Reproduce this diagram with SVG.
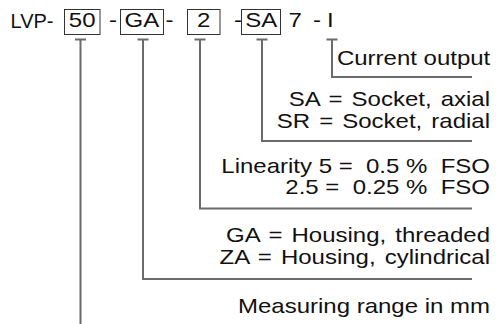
<svg xmlns="http://www.w3.org/2000/svg" width="496" height="324" viewBox="0 0 496 324">
  <style>
    text { font-family: "Liberation Sans", Arial, sans-serif; font-size: 20px; fill: #111; }
    .lbl { text-anchor: end; }
    .eq { word-spacing: 2px; }
    .mid { text-anchor: middle; }
    .box { fill: none; stroke: #333; stroke-width: 1; }
    .lead { fill: none; stroke: #6b6b6b; stroke-width: 2; }
  </style>
  <rect width="496" height="324" fill="#fff"/>

  <!-- type code; field characters use a 1.2x wide face (x values are divided by 1.2) -->
  <g id="code">
    <text x="10.5" y="27.5">LVP-</text>
    <rect class="box" x="64.5" y="9.5" width="35.5" height="25"/>
    <rect class="box" x="120.5" y="9.5" width="43" height="25"/>
    <rect class="box" x="187.5" y="9.5" width="32.5" height="25"/>
    <rect class="box" x="241.5" y="9.5" width="39" height="25"/>
    <g transform="scale(1.2 1)">
      <text class="mid" x="68.5" y="27.5">50</text>
      <text x="90.8" y="27.5">-</text>
      <text class="mid" x="118.3" y="27.5">GA</text>
      <text x="138" y="27.5">-</text>
      <text class="mid" x="169.8" y="27.5">2</text>
      <text x="195" y="27.5">-</text>
      <text class="mid" x="217.7" y="27.5">SA</text>
      <text x="240.4" y="27.5">7</text>
      <text x="260.8" y="27.5">-</text>
      <text x="272.5" y="27.5">I</text>
    </g>
  </g>

  <!-- leader lines from each code field to its explanation -->
  <g id="connectors">
    <path class="lead" d="M75 39.5H86M80.5 39.5V324"/>
    <path class="lead" d="M137.5 39.5H148.5M143 39.5V279H472"/>
    <path class="lead" d="M194.5 39.5H205.5M200 39.5V208.5H472"/>
    <path class="lead" d="M256.5 39.5H267.5M262 39.5V141H472"/>
    <path class="lead" d="M326.5 39.5H337.5M332 39.5V77H472"/>
  </g>

  <!-- explanations, right-aligned at x=490 (408.33 in the widened frame) -->
  <g transform="scale(1.2 1)">
    <g id="output"><text x="280.8" y="65">Current output</text></g>
    <g id="socket">
      <text class="lbl eq" x="408.33" y="106.5">SA = Socket, axial</text>
      <text class="lbl eq" x="408.33" y="128">SR = Socket, radial</text>
    </g>
    <g id="linearity">
      <text class="lbl" x="408.33" y="173" xml:space="preserve">Linearity 5 =  0.5 %  FSO</text>
      <text class="lbl" x="408.33" y="194.5" xml:space="preserve">2.5 =  0.25 %  FSO</text>
    </g>
    <g id="housing">
      <text class="lbl eq" x="408.33" y="242">GA = Housing, threaded</text>
      <text class="lbl eq" x="408.33" y="264">ZA = Housing, cylindrical</text>
    </g>
    <g id="range"><text class="lbl" x="408.33" y="313">Measuring range in mm</text></g>
  </g>
</svg>
